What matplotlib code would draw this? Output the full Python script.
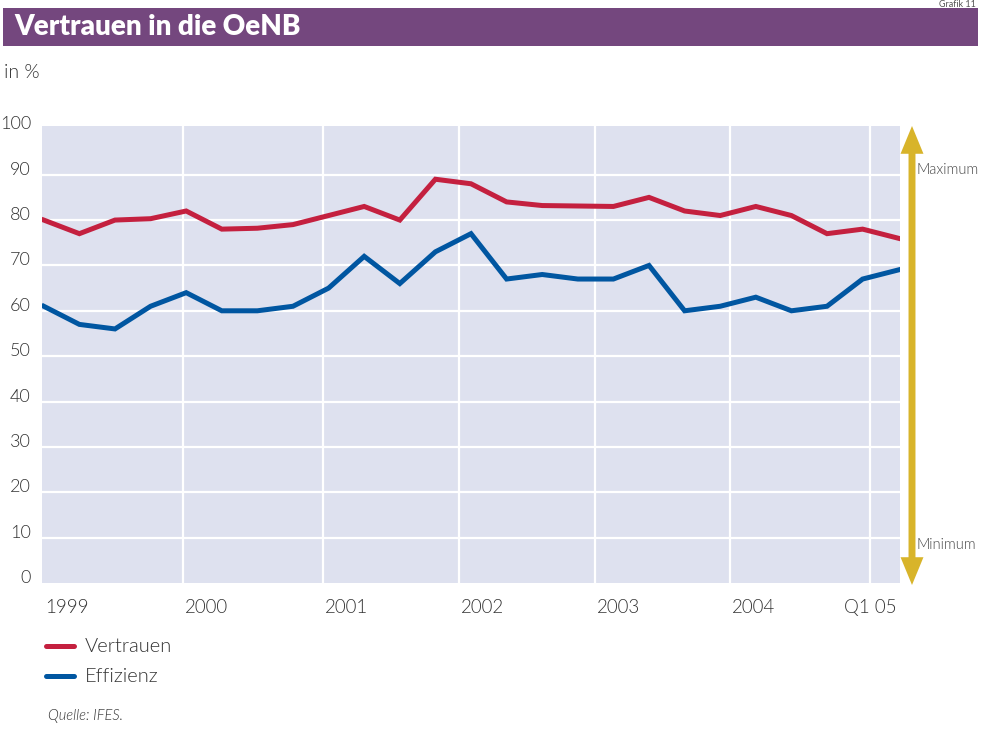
import matplotlib
matplotlib.use("Agg")
import matplotlib.pyplot as plt
from matplotlib.patches import FancyArrowPatch, Rectangle
import numpy as np

plt.rcParams['font.family'] = ['Lato', 'DejaVu Sans']

# quarterly survey values, 1999 Q1 .. 2005 Q1
vertrauen = [80, 77, 80, 80.3, 82, 78, 78.2, 79, 81, 83, 80, 89, 88,
             84, 83.2, 83.1, 83, 85, 82, 81, 83, 81, 77, 78, 76]
effizienz = [61, 57, 56, 61, 64, 60, 60, 61, 65, 72, 66, 73, 77,
             67, 68, 67, 67, 70, 60, 61, 63, 60, 61, 67, 69]
year_labels = ['1999', '2000', '2001', '2002', '2003', '2004', 'Q1 05']
year_pos = [0, 3.91, 7.84, 11.66, 15.49, 19.28, 23.22]
y_ticks = [0, 10, 20, 30, 40, 50, 60, 70, 80, 90, 100]

red = '#C4203F'
blue = '#0056A1'
gold = '#D8B42A'
purple = '#74477E'
grey = '#333333'
LIGHT = 300

fig = plt.figure(figsize=(9.93, 7.30), dpi=100)

# title bar
fig.add_artist(Rectangle((3 / 993, 1 - 45.5 / 730), 975 / 993, 37.5 / 730,
                         transform=fig.transFigure, facecolor=purple,
                         edgecolor='none'))
fig.text(14 / 993, 1 - 27 / 730, 'Vertrauen in die OeNB', color='white',
         fontsize=20, fontweight='heavy', va='center', ha='left')
fig.text(976 / 993, 1, 'Grafik 11', color='#555555', fontsize=6.5,
         va='top', ha='right')
fig.text(4 / 993, 1 - 72 / 730, 'in %', color=grey, fontsize=14,
         fontweight=LIGHT, va='center', ha='left')

ax = fig.add_axes([42 / 993, 147 / 730, 858 / 993, 457.3 / 730])
ax.set_facecolor('#DEE1EF')
x = np.arange(len(vertrauen))
ax.plot(x, vertrauen, color=red, lw=3.6, solid_joinstyle='miter', zorder=3)
ax.plot(x, effizienz, color=blue, lw=3.6, solid_joinstyle='miter', zorder=3)

ax.set_xlim(-0.05, len(vertrauen) - 0.95)
ax.set_ylim(0, 100.8)
ax.set_yticks(y_ticks)
ax.set_yticklabels([str(v) for v in y_ticks], fontsize=13, color=grey,
                   fontweight=LIGHT, va='baseline')
ax.tick_params(axis='y', length=0, pad=8)
ax.set_xticks([])
for p in year_pos[1:]:
    ax.axvline(p, color='white', lw=1.6, zorder=1)
for v in y_ticks[1:-1]:
    ax.axhline(v, color='white', lw=1.6, zorder=1)
for s in ax.spines.values():
    s.set_visible(False)

# year labels under the axis
for lab, p in zip(year_labels, year_pos):
    ha = 'center' if lab.startswith('Q') else 'left'
    off = 0 if ha == 'center' else 0.05
    ax.text(p + off, -5.4, lab, fontsize=13.5, color=grey, fontweight=LIGHT,
            ha=ha, va='center', transform=ax.transData)

# max/min arrow on the right
xa = 912 / 993
ymid = 1 - 355 / 730
for yend in (1 - 126 / 730, 1 - 585 / 730):
    fig.add_artist(FancyArrowPatch(
        (xa, ymid), (xa, yend), transform=fig.transFigure,
        arrowstyle='simple,head_length=20,head_width=16.5,tail_width=5',
        mutation_scale=1, color=gold, lw=0, shrinkA=0, shrinkB=0))
fig.text(917 / 993, 1 - 170 / 730, 'Maximum', fontsize=10.5, color='#444444',
         fontweight=LIGHT, va='center', ha='left')
fig.text(917 / 993, 1 - 545 / 730, 'Minimum', fontsize=10.5, color='#444444',
         fontweight=LIGHT, va='center', ha='left')

# legend
for lab, col, yy in (('Vertrauen', red, 646), ('Effizienz', blue, 676)):
    fig.add_artist(plt.Line2D([46 / 993, 74 / 993],
                              [1 - yy / 730, 1 - yy / 730],
                              transform=fig.transFigure, color=col, lw=3.6,
                              solid_capstyle='round'))
    fig.text(85 / 993, 1 - yy / 730, lab, fontsize=14.5, color=grey,
             fontweight=LIGHT, va='center', ha='left')

fig.text(48 / 993, 1 - 716 / 730, 'Quelle: IFES.', fontsize=10.5,
         color=grey, style='italic', fontweight=LIGHT, va='center',
         ha='left')

fig.savefig('out.png', dpi=100)
